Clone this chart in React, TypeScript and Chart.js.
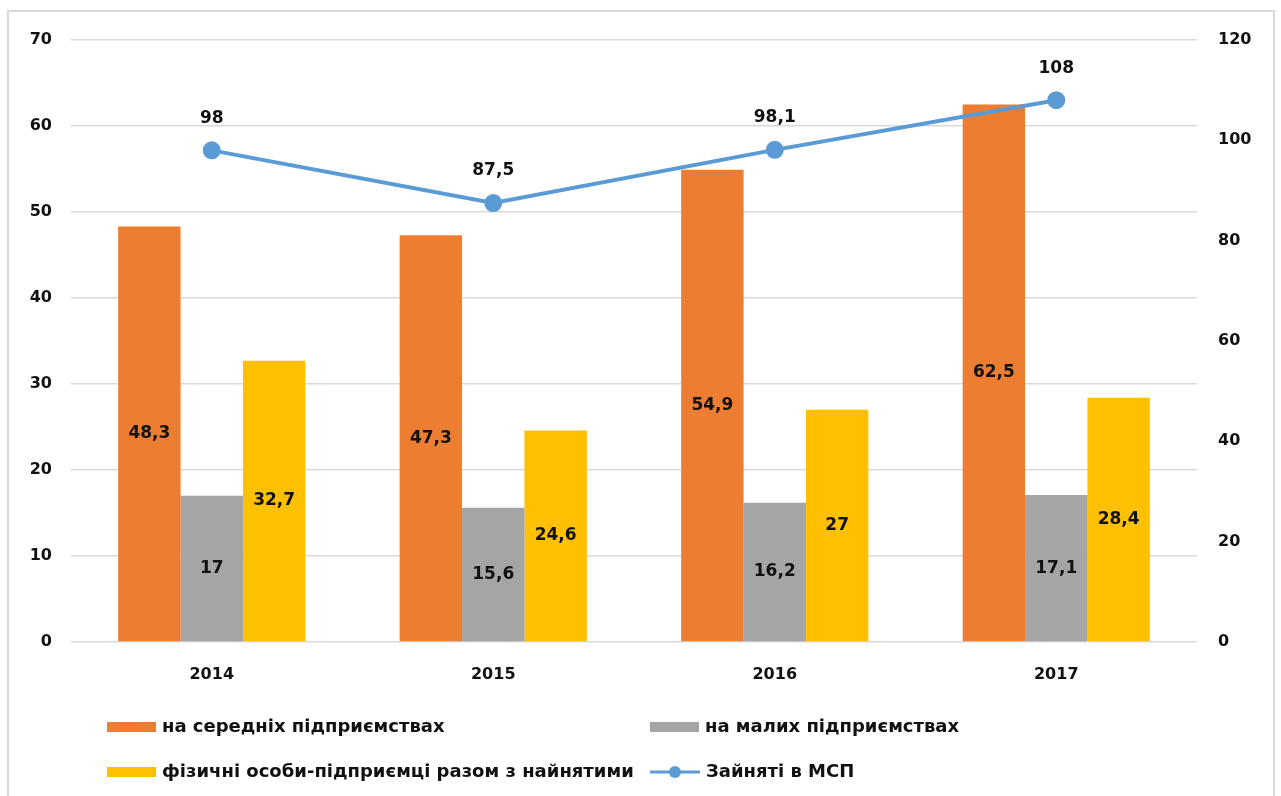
import React, { useEffect, useRef } from "react";
import { Chart, registerables } from "chart.js";

Chart.register(...registerables);

const years = ["2014", "2015", "2016", "2017"];
const mediumEnterprises = [48.3, 47.3, 54.9, 62.5];
const smallEnterprises = [17, 15.6, 16.2, 17.1];
const individualEntrepreneurs = [32.7, 24.6, 27, 28.4];
const employedSME = [98, 87.5, 98.1, 108];

const seriesLabels = [
  "на середніх підприємствах",
  "на малих підприємствах",
  "фізичні особи-підприємці разом з найнятими",
  "Зайняті в МСП",
];

const leftMax = 70;
const leftStep = 10;
const rightMax = 120;
const rightStep = 20;

const fmt = (v: number) => String(v).replace(".", ",");

const TICK_FONT = { family: "'DejaVu Sans', sans-serif", size: 16, weight: "bold" as const };
const X_FONT = { family: "'DejaVu Sans', sans-serif", size: 16, weight: "bold" as const };
const LABEL_FONT = "bold 17px 'DejaVu Sans', sans-serif";
const LEGEND_FONT = "bold 18px 'DejaVu Sans', sans-serif";

const dataLabelPlugin = {
  id: "dataLabels",
  afterDatasetsDraw(chart: any) {
    const ctx = chart.ctx;
    ctx.save();
    ctx.font = LABEL_FONT;
    ctx.fillStyle = "#111";
    ctx.textAlign = "center";
    ctx.textBaseline = "middle";
    chart.data.datasets.forEach((ds: any, i: number) => {
      const meta = chart.getDatasetMeta(i);
      meta.data.forEach((el: any, j: number) => {
        const v = ds.data[j];
        if (ds.type === "line") {
          ctx.fillText(fmt(v), el.x, el.y - 32);
        } else {
          ctx.fillText(fmt(v), el.x, (el.y + el.base) / 2);
        }
      });
    });
    ctx.restore();
  },
};

const legendPlugin = {
  id: "customLegend",
  afterDraw(chart: any) {
    const ctx = chart.ctx;
    const cols = [107, 650];
    const rows = [727, 772];
    ctx.save();
    ctx.font = LEGEND_FONT;
    ctx.textBaseline = "middle";
    ctx.textAlign = "left";
    chart.data.datasets.forEach((ds: any, i: number) => {
      const x = cols[i % 2];
      const y = rows[Math.floor(i / 2)];
      if (ds.type === "line") {
        ctx.strokeStyle = ds.borderColor;
        ctx.lineWidth = 3;
        ctx.beginPath();
        ctx.moveTo(x, y);
        ctx.lineTo(x + 50, y);
        ctx.stroke();
        ctx.fillStyle = ds.borderColor;
        ctx.beginPath();
        ctx.arc(x + 25, y, 6, 0, Math.PI * 2);
        ctx.fill();
        ctx.fillStyle = "#111";
        ctx.fillText(ds.label, x + 56, y);
      } else {
        ctx.fillStyle = ds.backgroundColor;
        ctx.fillRect(x, y - 5, 49, 10);
        ctx.fillStyle = "#111";
        ctx.fillText(ds.label, x + 55, y);
      }
    });
    ctx.restore();
  },
};

export default function App() {
  const ref = useRef<HTMLCanvasElement | null>(null);
  useEffect(() => {
    if (!ref.current) return;
    const chart = new Chart(ref.current, {
      type: "bar",
      data: {
        labels: years,
        datasets: [
          {
            type: "bar",
            label: seriesLabels[0],
            data: mediumEnterprises,
            backgroundColor: "#ed7d31",
            yAxisID: "y",
            order: 1,
          },
          {
            type: "bar",
            label: seriesLabels[1],
            data: smallEnterprises,
            backgroundColor: "#a5a5a5",
            yAxisID: "y",
            order: 1,
          },
          {
            type: "bar",
            label: seriesLabels[2],
            data: individualEntrepreneurs,
            backgroundColor: "#ffc000",
            yAxisID: "y",
            order: 1,
          },
          {
            type: "line",
            label: seriesLabels[3],
            data: employedSME,
            borderColor: "#5b9bd5",
            backgroundColor: "#5b9bd5",
            borderWidth: 4,
            pointRadius: 7,
            pointBackgroundColor: "#5b9bd5",
            pointBorderColor: "#5b9bd5",
            yAxisID: "y1",
            order: 0,
          } as any,
        ],
      },
      options: {
        animation: false,
        responsive: false,
        maintainAspectRatio: false,
        datasets: { bar: { categoryPercentage: 0.665, barPercentage: 1 } },
        layout: { padding: { top: 40, left: 0, right: 0, bottom: 0 } },
        plugins: { legend: { display: false }, tooltip: { enabled: false } },
        scales: {
          x: {
            grid: { display: false },
            border: { display: false },
            ticks: { color: "#111", font: X_FONT, padding: 15 },
            afterFit: (s: any) => { s.height = 154; },
          },
          y: {
            position: "left",
            min: 0,
            max: leftMax,
            ticks: { stepSize: leftStep, color: "#111", font: TICK_FONT, padding: 19 },
            grid: { color: "#d9d9d9", drawTicks: false, lineWidth: 1.5 },
            border: { display: false },
            afterFit: (s: any) => { s.width = 71; },
          },
          y1: {
            position: "right",
            min: 0,
            max: rightMax,
            ticks: { stepSize: rightStep, color: "#111", font: TICK_FONT, padding: 21 },
            grid: { display: false, drawTicks: false },
            border: { display: false },
            afterFit: (s: any) => { s.width = 84; },
          },
        },
      },
      plugins: [dataLabelPlugin, legendPlugin],
    });
    return () => chart.destroy();
  }, []);
  return (
    <div style={{ position: "fixed", left: 0, top: 0, width: 1281, height: 796, background: "#fff" }}>
      <div
        style={{
          position: "absolute",
          left: 7,
          top: 10,
          width: 1264,
          height: 800,
          borderTop: "2px solid #d9d9d9",
          borderLeft: "2px solid #d9d9d9",
          borderRight: "2px solid #d9d9d9",
        }}
      />
      <canvas ref={ref} width={1281} height={796} style={{ position: "absolute", left: 0, top: 0 }} />
    </div>
  );
}
